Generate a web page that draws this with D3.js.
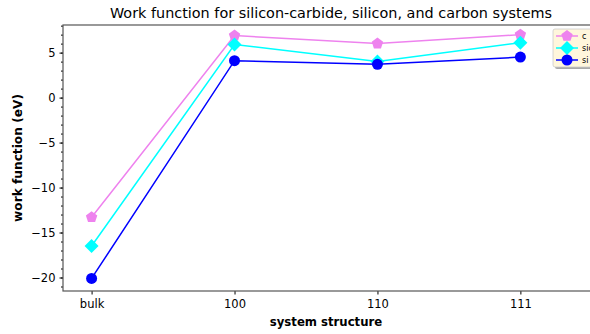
<!DOCTYPE html>
<html>
<head>
<meta charset="utf-8">
<script src="https://cdn.jsdelivr.net/npm/d3@7"></script>
<style>
  body { margin: 0; background: #fff; }
  text { font-family: "DejaVu Sans", sans-serif; }
</style>
</head>
<body>
<div id="chart"></div>
<script>
// chart data
var categories = ["bulk", "100", "110", "111"];
var seriesNames = ["c", "sic", "si"];
var cValues = [-13.3, 6.9, 6.0, 7.0];
var sicValues = [-16.5, 5.9, 4.0, 6.1];
var siValues = [-20.1, 4.1, 3.7, 4.5];
var yTicks = [-20, -15, -10, -5, 0, 5];

var svgWidth = 590;
var svgHeight = 334;

var margin = { top: 25, right: -9, bottom: 43, left: 63 };
var width = svgWidth - margin.left - margin.right;
var height = svgHeight - margin.top - margin.bottom;

var svg = d3.select("#chart")
  .append("svg")
  .attr("width", svgWidth)
  .attr("height", svgHeight);

var chartGroup = svg.append("g")
  .attr("transform", `translate(${margin.left}, ${margin.top})`);

// scales
var xScale = d3.scaleLinear().domain([-0.2, 3.55]).range([0, width]);
var yScale = d3.scaleLinear().domain([-21.5, 8.07]).range([height, 0]);

// y axis with minor ticks
var minorTicks = d3.range(-21, 9, 1);
var yAxis = chartGroup.append("g")
  .call(d3.axisLeft(yScale).tickValues(yTicks).tickSize(3.5).tickPadding(4)
    .tickFormat(d => d < 0 ? "\u2212" + Math.abs(d) : d));
yAxis.selectAll("text").attr("font-size", "11.5px").attr("fill", "#000");
yAxis.select(".domain").remove();

chartGroup.append("g")
  .call(d3.axisLeft(yScale).tickValues(minorTicks).tickSize(2).tickFormat(""))
  .call(g => g.select(".domain").remove());

// x axis
var xAxis = chartGroup.append("g")
  .attr("transform", `translate(0, ${height})`)
  .call(d3.axisBottom(xScale).tickValues([0, 1, 2, 3]).tickSize(3.5).tickPadding(5)
    .tickFormat(i => categories[i]));
xAxis.selectAll("text").attr("font-size", "11.5px").attr("fill", "#000");
xAxis.select(".domain").remove();

// spines
chartGroup.append("rect")
  .attr("width", width)
  .attr("height", height)
  .attr("fill", "none")
  .attr("stroke", "#555")
  .attr("stroke-width", 1.2);

// series
var series = [
  { name: seriesNames[0], values: cValues, color: "violet", marker: "pentagon" },
  { name: seriesNames[1], values: sicValues, color: "cyan", marker: "diamond" },
  { name: seriesNames[2], values: siValues, color: "blue", marker: "circle" }
];

var line = d3.line()
  .x((d, i) => xScale(i))
  .y(d => yScale(d));

function markerPath(type) {
  if (type === "pentagon") {
    var pts = d3.range(5).map(k => {
      var a = -Math.PI / 2 + k * 2 * Math.PI / 5;
      return [6 * Math.cos(a), 6 * Math.sin(a)];
    });
    return "M" + pts.join("L") + "Z";
  }
  if (type === "diamond") return "M0,-7L7,0L0,7L-7,0Z";
  return d3.symbol().type(d3.symbolCircle).size(95)();
}

series.forEach(function(s) {
  chartGroup.append("path")
    .datum(s.values)
    .attr("d", line)
    .attr("fill", "none")
    .attr("stroke", s.color)
    .attr("stroke-width", 1.5);

  chartGroup.selectAll(null)
    .data(s.values)
    .enter()
    .append("path")
    .attr("transform", (d, i) => `translate(${xScale(i)}, ${yScale(d)})`)
    .attr("d", markerPath(s.marker))
    .attr("fill", s.color);
});

// title and axis labels
svg.append("text")
  .attr("x", 331)
  .attr("y", 18)
  .attr("text-anchor", "middle")
  .attr("font-size", "14.4px")
  .text("Work function for silicon-carbide, silicon, and carbon systems");

svg.append("text")
  .attr("x", 326)
  .attr("y", 326)
  .attr("text-anchor", "middle")
  .attr("font-size", "11.7px")
  .attr("font-weight", "bold")
  .text("system structure");

svg.append("text")
  .attr("transform", `translate(22, ${margin.top + height / 2}) rotate(-90)`)
  .attr("text-anchor", "middle")
  .attr("font-size", "12.2px")
  .attr("font-weight", "bold")
  .text("work function (eV)");

// legend
var legend = svg.append("g").attr("transform", "translate(553, 29)");
legend.append("rect")
  .attr("x", 2).attr("y", 2)
  .attr("width", 60).attr("height", 38)
  .attr("rx", 2)
  .attr("fill", "#aaa");
legend.append("rect")
  .attr("width", 60).attr("height", 38)
  .attr("rx", 2)
  .attr("fill", "#fff6dc")
  .attr("stroke", "#ccc")
  .attr("stroke-width", 0.8);

series.forEach(function(s, i) {
  var ly = 7 + i * 12;
  legend.append("line")
    .attr("x1", 3).attr("x2", 25)
    .attr("y1", ly).attr("y2", ly)
    .attr("stroke", s.color)
    .attr("stroke-width", 1.5);
  legend.append("path")
    .attr("transform", `translate(14, ${ly})`)
    .attr("d", markerPath(s.marker))
    .attr("fill", s.color);
  legend.append("text")
    .attr("x", 29)
    .attr("y", ly + 3)
    .attr("font-size", "8px")
    .text(s.name);
});
</script>
</body>
</html>
